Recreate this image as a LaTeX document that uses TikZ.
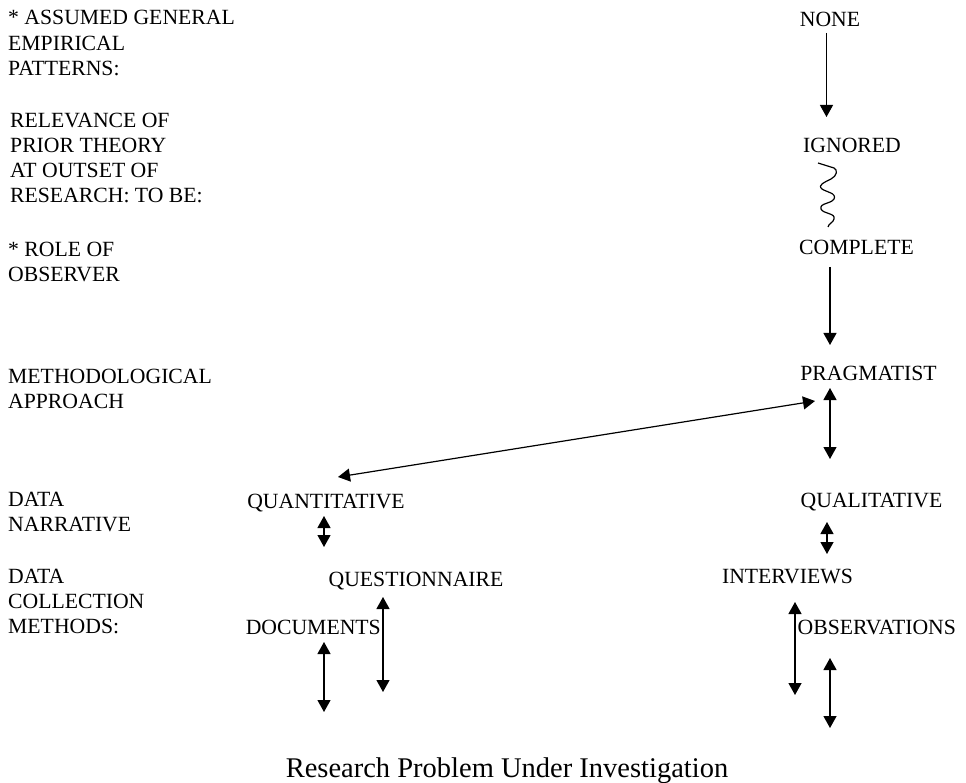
\documentclass[tikz,border=0pt]{standalone}
\usepackage{fontspec}
\setmainfont{Liberation Serif}
\usetikzlibrary{arrows.meta}
\tikzset{
  lbl/.style={font=\fontsize{21.7}{25}\selectfont, inner sep=0pt, anchor=base west},
  term/.style={font=\fontsize{21.7}{25}\selectfont, inner sep=0pt, anchor=base},
  ttl/.style={font=\fontsize{28.5}{32}\selectfont, inner sep=0pt, anchor=base},
  arr/.style={line width=1.2pt, -{Triangle[width=13pt,length=12pt]}},
  dbl/.style={line width=1.2pt, {Triangle[width=13pt,length=12pt]}-{Triangle[width=13pt,length=12pt]}},
  wave/.style={line width=1.2pt}
}
\begin{document}
\begin{tikzpicture}[x=1pt,y=-1pt]
\useasboundingbox (0,0) rectangle (966,783);
% left labels
\node[lbl] (l1a) at (8,25) {* ASSUMED GENERAL};
\node[lbl] (l1b) at (8,50.5) {EMPIRICAL};
\node[lbl] (l1c) at (8,76) {PATTERNS:};
\node[lbl] (l2a) at (10,128) {RELEVANCE OF};
\node[lbl] (l2b) at (10,153) {PRIOR THEORY};
\node[lbl] (l2c) at (10,178) {AT OUTSET OF};
\node[lbl] (l2d) at (10,203) {RESEARCH: TO BE:};
\node[lbl] (l3a) at (8,257) {* ROLE OF};
\node[lbl] (l3b) at (8,282) {OBSERVER};
\node[lbl] (l4a) at (8,383) {METHODOLOGICAL};
\node[lbl] (l4b) at (8,408) {APPROACH};
\node[lbl] (l5a) at (8,506) {DATA};
\node[lbl] (l5b) at (8,531) {NARRATIVE};
\node[lbl] (l6a) at (8,583) {DATA};
\node[lbl] (l6b) at (8,608) {COLLECTION};
\node[lbl] (l6c) at (8,633) {METHODS:};
% right column terms
\node[term] (none) at (830,27) {NONE};
\node[term] (ignored) at (852,153) {IGNORED};
\node[term] (complete) at (856.5,255) {COMPLETE};
\node[term] (pragmatist) at (868.5,380) {PRAGMATIST};
\node[term] (quant) at (326,508) {QUANTITATIVE};
\node[term] (qual) at (871.5,507) {QUALITATIVE};
\node[term] (quest) at (416,586) {QUESTIONNAIRE};
\node[term] (interv) at (787.5,583) {INTERVIEWS};
\node[term, anchor=base east] (docs) at (381,634) {DOCUMENTS};
\node[term, anchor=base west] (obs) at (797.5,634) {OBSERVATIONS};
\node[ttl] (title) at (507,777) {Research Problem Under Investigation};
% connector end points
\coordinate (a1s) at (826.5,33);  \coordinate (a1e) at (826.5,117);
\coordinate (a3s) at (830,267);   \coordinate (a3e) at (830,345);
\coordinate (a4s) at (830,388);   \coordinate (a4e) at (830,459);
\coordinate (a5s) at (815,401);   \coordinate (a5e) at (338,477);
\coordinate (a6s) at (324,516);   \coordinate (a6e) at (324,547);
\coordinate (a7s) at (827,522);   \coordinate (a7e) at (827,554);
\coordinate (a8s) at (383,597);   \coordinate (a8e) at (383,692);
\coordinate (a9s) at (324,642);   \coordinate (a9e) at (324,712);
\coordinate (a10s) at (795,602);  \coordinate (a10e) at (795,695);
\coordinate (a11s) at (830,658);  \coordinate (a11e) at (830,728);
% connectors
\draw[arr] (a1s) -- (a1e);
\draw[wave] (818,163) -- (834,168)
  .. controls (838,170) and (837,176) .. (831,179)
  .. controls (825,182) and (817,185) .. (822,189)
  .. controls (826,192) and (837,193) .. (834,199)
  .. controls (831,204) and (819,203) .. (821,209)
  .. controls (823,214) and (836,213) .. (834,219)
  .. controls (833,223) and (829,223) .. (828,227);
\draw[arr] (a3s) -- (a3e);
\draw[dbl] (a4s) -- (a4e);
\draw[dbl] (a5s) -- (a5e);
\draw[dbl] (a6s) -- (a6e);
\draw[dbl] (a7s) -- (a7e);
\draw[dbl] (a8s) -- (a8e);
\draw[dbl] (a9s) -- (a9e);
\draw[dbl] (a10s) -- (a10e);
\draw[dbl] (a11s) -- (a11e);
\end{tikzpicture}
\end{document}
